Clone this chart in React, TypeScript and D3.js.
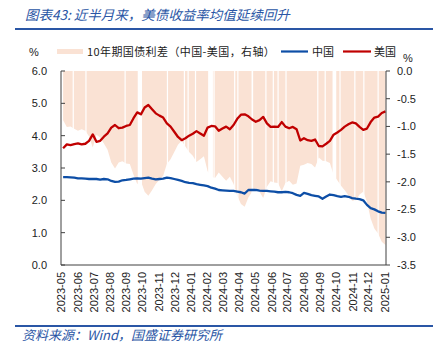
import React from 'react';
import * as d3 from 'd3';

const START_DATE = '2023-05-11';
const FINAL_DATE = '2025-01-09';

const us10y = [
  3.61, 3.73, 3.71, 3.74, 3.76, 3.73, 3.75, 3.84, 4.04, 3.81,
  3.84, 3.97, 4.07, 4.25, 4.33, 4.23, 4.25, 4.30, 4.33, 4.54,
  4.72, 4.66, 4.87, 4.95, 4.82, 4.69, 4.62, 4.56, 4.38, 4.28,
  4.12, 3.96, 3.86, 3.92, 4.00, 4.06, 4.14, 4.07, 4.00, 4.25,
  4.30, 4.29, 4.15, 4.22, 4.28, 4.20, 4.33, 4.52, 4.65, 4.66,
  4.60, 4.50, 4.43, 4.48, 4.58, 4.38, 4.27, 4.28, 4.27, 4.42,
  4.28, 4.23, 4.27, 4.20, 3.85, 3.92, 3.86, 3.84, 3.88, 3.68,
  3.67, 3.75, 3.84, 4.03, 4.10, 4.18, 4.28, 4.35, 4.41, 4.38,
  4.27, 4.18, 4.22, 4.42, 4.56, 4.59, 4.70, 4.75,
];

const cn10y = [
  2.72, 2.72, 2.71, 2.70, 2.68, 2.68, 2.67, 2.66, 2.66, 2.66,
  2.64, 2.66, 2.65, 2.60, 2.57, 2.58, 2.62, 2.63, 2.65, 2.67,
  2.68, 2.67, 2.69, 2.70, 2.67, 2.65, 2.66, 2.67, 2.70, 2.69,
  2.66, 2.63, 2.60, 2.56, 2.54, 2.53, 2.50, 2.48, 2.46, 2.44,
  2.39, 2.36, 2.32, 2.31, 2.30, 2.29, 2.29, 2.27, 2.25, 2.21,
  2.32, 2.32, 2.32, 2.30, 2.29, 2.29, 2.28, 2.27, 2.25, 2.25,
  2.26, 2.25, 2.22, 2.17, 2.14, 2.23, 2.20, 2.16, 2.14, 2.12,
  2.05, 2.12, 2.18, 2.16, 2.13, 2.11, 2.13, 2.11, 2.07, 2.05,
  2.04, 2.00, 1.86, 1.76, 1.72, 1.66, 1.62, 1.61,
];

// Days with missing spread (holidays) – shown as white gaps in the area
const gapRanges: [string, string][] = [
  ['2023-05-29', '2023-05-29'], ['2023-06-22', '2023-06-23'], ['2023-09-04', '2023-09-04'],
  ['2023-09-29', '2023-10-06'], ['2023-11-23', '2023-11-23'], ['2023-12-25', '2023-12-25'],
  ['2024-01-01', '2024-01-01'], ['2024-01-15', '2024-01-15'], ['2024-02-09', '2024-02-17'],
  ['2024-02-19', '2024-02-19'], ['2024-03-29', '2024-03-29'], ['2024-04-04', '2024-04-05'],
  ['2024-05-01', '2024-05-03'], ['2024-05-27', '2024-05-27'], ['2024-06-10', '2024-06-10'],
  ['2024-06-19', '2024-06-19'], ['2024-07-04', '2024-07-04'], ['2024-09-02', '2024-09-02'],
  ['2024-09-16', '2024-09-17'], ['2024-10-01', '2024-10-07'], ['2024-10-14', '2024-10-14'],
  ['2024-11-11', '2024-11-11'], ['2024-11-28', '2024-11-28'], ['2024-12-25', '2024-12-25'],
];

const monthLabels = [
  '2023-05', '2023-06', '2023-07', '2023-08', '2023-09', '2023-10', '2023-11', '2023-12',
  '2024-01', '2024-02', '2024-03', '2024-04', '2024-05', '2024-06', '2024-07', '2024-08',
  '2024-09', '2024-10', '2024-11', '2024-12', '2025-01',
];
const leftTicks = [0, 1, 2, 3, 4, 5, 6];
const rightTicks = [-3.5, -3.0, -2.5, -2.0, -1.5, -1.0, -0.5, 0.0];

const TITLE = '图表43: 近半月来，美债收益率均值延续回升';
const SOURCE = '资料来源：Wind，国盛证券研究所';
const LEGEND_SPREAD = '10年期国债利差（中国-美国，右轴）';
const LEGEND_CN = '中国';
const LEGEND_US = '美国';

const parse = d3.timeParse('%Y-%m-%d');

export default function App() {
  const W = 433, H = 356;
  const L = 61, R = 386, T = 71, B = 265;

  const start = parse(START_DATE)!;
  const dates = us10y.map((_, i) =>
    i === us10y.length - 1 ? parse(FINAL_DATE)! : d3.timeDay.offset(start, 7 * i)
  );
  const rows = dates.map((d, i) => ({ d, us: us10y[i], cn: cn10y[i], sp: cn10y[i] - us10y[i] }));

  const x = d3.scaleTime().domain([new Date(2023, 4, 7), new Date(2025, 0, 10)]).range([L, R]);
  const yL = d3.scaleLinear().domain([0, 6]).range([B, T]);
  const yR = d3.scaleLinear().domain([-3.5, 0]).range([B, T]);

  const area = d3.area<any>().x(r => x(r.d)).y0(yR(0)).y1(r => yR(r.sp));
  const lineUS = d3.line<any>().x(r => x(r.d)).y(r => yL(r.us));
  const lineCN = d3.line<any>().x(r => x(r.d)).y(r => yL(r.cn));

  const axisColor = '#404040';
  const tickFont = 'Liberation Sans, Arial, sans-serif';
  const cjk = '"Noto Sans CJK SC", sans-serif';
  const pink = '#FAE2D4';
  const blue = '#0D4EA6';
  const red = '#C00000';
  const headBlue = '#2A56A5';

  return (
    <svg width={W} height={H} style={{ position: 'absolute', left: 0, top: 0, background: '#fff' }}>
      <rect x={0} y={0} width={W} height={H} fill="#fff" />
      {/* title */}
      <text x={25} y={20} fontFamily={cjk} fontSize={13.5} fontStyle="italic" fill={headBlue}>{TITLE}</text>
      <line x1={15} x2={W} y1={29} y2={29} stroke={headBlue} strokeWidth={2} />

      {/* legend */}
      <text x={29} y={56} fontFamily={tickFont} fontSize={11} fill="#222">%</text>
      <rect x={57} y={49} width={26} height={5} fill={pink} />
      <text x={87} y={55.5} fontFamily={cjk} fontSize={11} fill="#222" letterSpacing={0.4}>{LEGEND_SPREAD}</text>
      <line x1={281} x2={308} y1={51.5} y2={51.5} stroke={blue} strokeWidth={2.2} />
      <text x={312} y={55.5} fontFamily={cjk} fontSize={11} fill="#222">{LEGEND_CN}</text>
      <line x1={343} x2={371} y1={51.5} y2={51.5} stroke={red} strokeWidth={2.2} />
      <text x={374} y={55.5} fontFamily={cjk} fontSize={11} fill="#222">{LEGEND_US}</text>
      <text x={403} y={62} fontFamily={tickFont} fontSize={11} fill="#222">%</text>

      {/* spread area */}
      <path d={area(rows) || ''} fill={pink} />
      {gapRanges.map(([a, b], i) => {
        const x0 = x(parse(a)!);
        const x1 = x(d3.timeDay.offset(parse(b)!, 1));
        const w = Math.max(1.2, x1 - x0);
        return <rect key={i} x={x0} y={T} width={w} height={B - T} fill="#fff" />;
      })}

      {/* lines */}
      <path d={lineCN(rows) || ''} fill="none" stroke={blue} strokeWidth={2.3} strokeLinejoin="round" />
      <path d={lineUS(rows) || ''} fill="none" stroke={red} strokeWidth={2.3} strokeLinejoin="round" />

      {/* axes */}
      <line x1={L} x2={L} y1={T} y2={B} stroke={axisColor} strokeWidth={1} />
      <line x1={R} x2={R} y1={T} y2={B} stroke={axisColor} strokeWidth={1} />
      <line x1={L} x2={R} y1={B} y2={B} stroke={axisColor} strokeWidth={1} />
      {leftTicks.map(v => (
        <g key={'l' + v}>
          <line x1={L} x2={L + 4} y1={yL(v)} y2={yL(v)} stroke={axisColor} />
          <text x={47} y={yL(v)} dy="0.35em" textAnchor="end" fontFamily={tickFont} fontSize={11} fill="#222">
            {v.toFixed(1)}
          </text>
        </g>
      ))}
      {rightTicks.map(v => (
        <g key={'r' + v}>
          <line x1={R} x2={R + 4} y1={yR(v)} y2={yR(v)} stroke={axisColor} />
          <text x={397} y={yR(v)} dy="0.35em" textAnchor="start" fontFamily={tickFont} fontSize={11} fill="#222">
            {v.toFixed(1)}
          </text>
        </g>
      ))}
      {monthLabels.map(m => {
        const [yy, mm] = m.split('-').map(Number);
        const xp = x(new Date(yy, mm - 1, 8));
        return (
          <text key={m} transform={`translate(${xp},272) rotate(-90)`} dy="0.35em" textAnchor="end"
            fontFamily={tickFont} fontSize={11} fill="#222">{m}</text>
        );
      })}

      {/* footer */}
      <line x1={15} x2={W} y1={326} y2={326} stroke={headBlue} strokeWidth={2} />
      <text x={22} y={340} fontFamily={cjk} fontSize={13} fontStyle="italic" fill={headBlue}>{SOURCE}</text>
    </svg>
  );
}
